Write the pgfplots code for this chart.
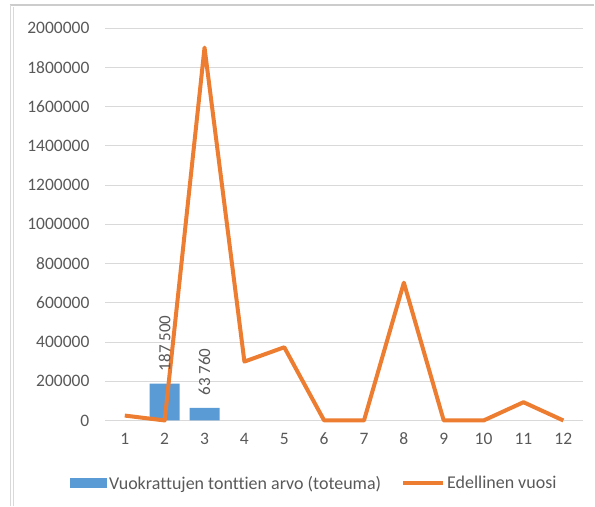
\documentclass[border=0pt]{standalone}
\usepackage{pgfplots}
\pgfplotsset{compat=1.18}
\usepackage{fontspec}
\setmainfont{Carlito}[Ligatures={NoCommon}]
\definecolor{barblue}{HTML}{5B9BD5}
\definecolor{lineor}{HTML}{ED7D31}
\definecolor{txtgray}{HTML}{595959}
\definecolor{gridgray}{HTML}{D9D9D9}
\begin{document}
\begin{tikzpicture}
\path (0pt,0pt) rectangle (595pt,507pt);
\draw[color=gray!40, line width=1.5pt] (10pt,502pt) -- (595pt,502pt);
\draw[color=gray!30, line width=1pt] (11pt,0pt) -- (11pt,502pt);
\draw[color=gray!30, line width=1pt] (13.5pt,0pt) -- (13.5pt,500pt);
\begin{axis}[
  at={(105pt,86pt)}, anchor=south west,
  width=479pt, height=393pt, scale only axis,
  xmin=0.5, xmax=12.5, ymin=0, ymax=2000000,
  xtick={1,...,12}, ytick={0,200000,...,2000000},
  scaled y ticks=false,
  /pgf/number format/assume math mode=true,
  yticklabel={\pgfmathprintnumber[fixed,precision=0,1000 sep={}]{\tick}},
  ymajorgrids, major grid style={gridgray, line width=0.8pt},
  axis line style={draw=none}, major tick length=0pt,
  tick label style={font=\fontsize{17.5}{20}\selectfont, text=txtgray},
  yticklabel style={xshift=-12pt},
  xticklabel style={yshift=-9pt},
  legend style={at={(-35pt,-63pt)}, anchor=west, draw=none, fill=none,
    font=\fontsize{18}{20}\selectfont, text=txtgray,
    legend columns=2, /tikz/every even column/.append style={column sep=18pt},
    inner sep=0pt},
  clip=false,
]
\addplot[ybar, bar width=30pt, fill=barblue, draw=none,
  nodes near coords={\pgfmathprintnumber[fixed,precision=0,1000 sep={\ }]{\pgfplotspointmeta}},
  every node near coord/.append style={rotate=90, anchor=west, xshift=9pt, yshift=0pt,
    font=\fontsize{17}{20}\selectfont, text=txtgray},
  legend image code/.code={\fill[barblue] (0pt,-5pt) rectangle (37pt,5pt);}]
  coordinates {(2,187500) (3,63760)};
\addlegendentry{Vuokrattujen tonttien arvo (toteuma)}
\addplot[lineor, line width=4pt, line join=round, mark=none, sharp plot,
  legend image code/.code={\draw[lineor, line width=4pt] (0pt,0pt) -- (40pt,0pt);}]
  coordinates {(1,25000) (2,0) (3,1900000) (4,300000) (5,373000) (6,0) (7,0) (8,702000) (9,0) (10,0) (11,93000) (12,0)};
\addlegendentry{Edellinen vuosi}
\end{axis}
\end{tikzpicture}
\end{document}
